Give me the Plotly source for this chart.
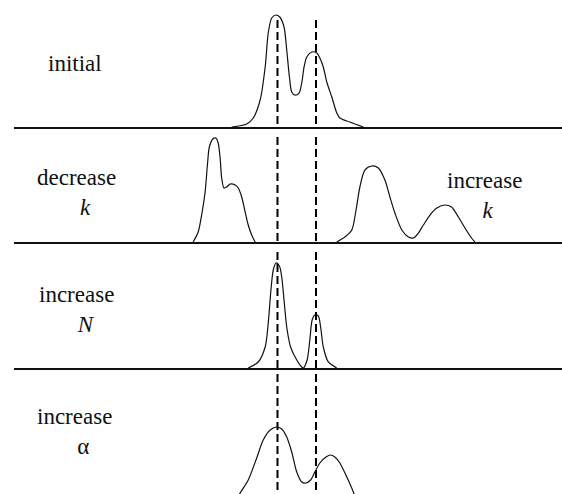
import plotly.graph_objects as go

# ---- data (trait value on x; density height on y, baseline = 0) ----
initial_x = [-1.19, -0.80, -0.63, -0.45, -0.32, -0.24, -0.15, -0.04, 0.06, 0.17, 0.24, 0.31, 0.37,
             0.45, 0.56, 0.63, 0.69, 0.76, 0.89, 1.02, 1.10, 1.19, 1.28, 1.41, 1.54, 1.62, 1.88, 2.23]
initial_y = [0.00, 0.03, 0.09, 0.27, 0.60, 0.94, 1.09, 1.12, 1.10, 1.00, 0.77, 0.50, 0.35,
             0.32, 0.34, 0.44, 0.60, 0.70, 0.75, 0.74, 0.69, 0.60, 0.45, 0.30, 0.14, 0.09, 0.05, 0.00]

decrease_k_x = [-2.19, -2.06, -1.97, -1.88, -1.82, -1.77, -1.68, -1.60, -1.54, -1.49, -1.45,
                -1.39, -1.32, -1.23, -1.10, -1.02, -0.93, -0.84, -0.76, -0.67, -0.58]
decrease_k_y = [0.00, 0.10, 0.27, 0.50, 0.77, 0.95, 1.03, 1.04, 0.99, 0.84, 0.64,
                0.54, 0.55, 0.58, 0.57, 0.54, 0.45, 0.30, 0.17, 0.07, 0.00]

increase_k_x = [1.54, 1.75, 1.93, 2.04, 2.14, 2.27, 2.45, 2.62, 2.79, 2.92, 3.05, 3.23, 3.40,
                3.53, 3.66, 3.79, 3.96, 4.14, 4.35, 4.52, 4.70, 4.87, 5.04, 5.13]
increase_k_y = [0.00, 0.05, 0.12, 0.32, 0.55, 0.72, 0.76, 0.74, 0.62, 0.45, 0.29, 0.12, 0.05,
                0.04, 0.09, 0.17, 0.27, 0.34, 0.37, 0.35, 0.25, 0.14, 0.04, 0.00]

increase_N_x = [-0.76, -0.50, -0.32, -0.24, -0.17, -0.11, -0.04, 0.05, 0.11, 0.17, 0.24, 0.34,
                0.50, 0.63, 0.67, 0.77, 0.84, 0.90, 0.97, 1.06, 1.12, 1.19, 1.32, 1.54]
increase_N_y = [0.00, 0.06, 0.21, 0.45, 0.78, 0.98, 1.05, 1.02, 0.91, 0.68, 0.41, 0.21,
                0.08, 0.01, 0.00, 0.08, 0.28, 0.48, 0.53, 0.52, 0.41, 0.21, 0.06, 0.00]

increase_alpha_x = [-1.02, -0.97, -0.76, -0.54, -0.37, -0.19, -0.02, 0.11, 0.24, 0.37, 0.50, 0.63,
                    0.74, 0.86, 0.97, 1.10, 1.26, 1.38, 1.49, 1.62, 1.80, 1.97, 2.01]
increase_alpha_y = [0.03, 0.07, 0.20, 0.42, 0.60, 0.70, 0.73, 0.71, 0.63, 0.48, 0.28, 0.18,
                    0.17, 0.20, 0.28, 0.37, 0.43, 0.45, 0.43, 0.37, 0.23, 0.08, 0.03]

reference_x = [0, 1]                       # positions of the dashed reference lines
reference_top = [1.07, 1.05, 1.16, 1.26]   # top of dashed line in each panel

panel_labels = ["initial", "decrease<br>   <i>k</i>", "increase<br>   <i>N</i>", "increase<br>   α"]

# ---- layout geometry ----
W, H = 562, 494
x_range = [-6.844, 7.390]
x_domain = [14 / W, 1.0]
y_domains = [[0.7429, 1.0], [0.5101, 0.7429], [0.2551, 0.5101], [0.0, 0.2551]]
y_ranges = [[0, 1.27], [0, 1.15], [0, 1.26], [0.06, 1.32]]

fig = go.Figure()

curves = [
    [(initial_x, initial_y)],
    [(decrease_k_x, decrease_k_y), (increase_k_x, increase_k_y)],
    [(increase_N_x, increase_N_y)],
    [(increase_alpha_x, increase_alpha_y)],
]

for i, panel in enumerate(curves):
    xa = "x" if i == 0 else f"x{i+1}"
    ya = "y" if i == 0 else f"y{i+1}"
    for xs, ys in panel:
        fig.add_trace(go.Scatter(x=xs, y=ys, mode="lines", xaxis=xa, yaxis=ya,
                                 line=dict(color="#111", width=1.2, shape="spline", smoothing=0.8),
                                 hoverinfo="skip"))
    for rx in reference_x:
        fig.add_trace(go.Scatter(x=[rx, rx], y=[reference_top[i], 0], mode="lines", xaxis=xa, yaxis=ya,
                                 line=dict(color="#000", width=2, dash="8px,4px"),
                                 hoverinfo="skip"))

layout = dict(width=W, height=H, margin=dict(l=0, r=0, t=0, b=0),
              paper_bgcolor="white", plot_bgcolor="white", showlegend=False)
for i in range(4):
    xk = "xaxis" if i == 0 else f"xaxis{i+1}"
    yk = "yaxis" if i == 0 else f"yaxis{i+1}"
    ya = "y" if i == 0 else f"y{i+1}"
    xa = "x" if i == 0 else f"x{i+1}"
    layout[xk] = dict(domain=x_domain, range=x_range, anchor=ya, showgrid=False, zeroline=False,
                      showticklabels=False, ticks="", showline=(i < 3), linecolor="#111", linewidth=2)
    layout[yk] = dict(domain=y_domains[i], range=y_ranges[i], anchor=xa, showgrid=False,
                      zeroline=False, showticklabels=False, ticks="", showline=False)
fig.update_layout(**layout)

font = dict(family="Liberation Serif, Times New Roman, DejaVu Serif, serif", size=23, color="#111")
label_pos = [(74.5 / W, 1 - 63 / H), (76 / W, 1 - 192 / H), (76 / W, 1 - 309 / H), (75 / W, 1 - 431 / H)]
for txt, (lx, ly) in zip(panel_labels, label_pos):
    fig.add_annotation(text=txt, x=lx, y=ly, xref="paper", yref="paper", showarrow=False,
                       xanchor="center", yanchor="middle", align="center", font=font)
fig.add_annotation(text="increase<br> <i>k</i>", x=484 / W, y=1 - 195 / H, xref="paper", yref="paper",
                   showarrow=False, xanchor="center", yanchor="middle", align="center", font=font)

fig.write_html("out.html", config={"displayModeBar": False},
               post_script="document.body.style.margin='0';document.body.style.padding='0';")
